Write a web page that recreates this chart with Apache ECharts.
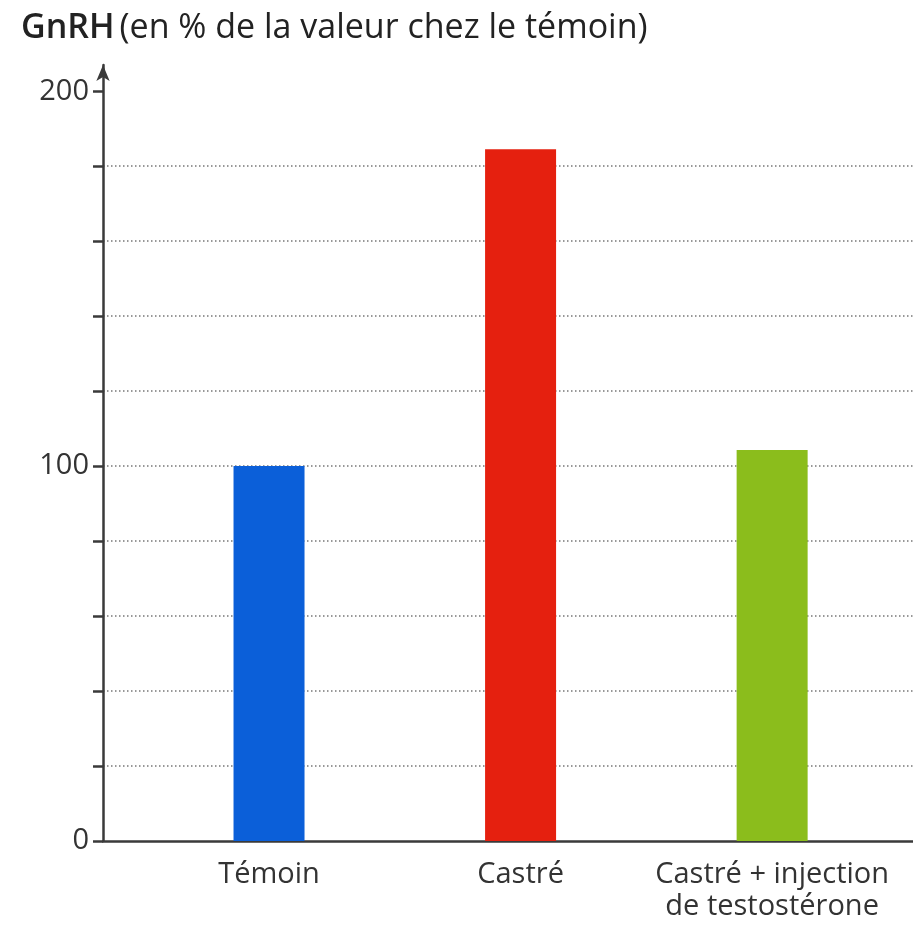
<!DOCTYPE html>
<html><head><meta charset="utf-8">
<script src="https://cdn.jsdelivr.net/npm/echarts@6/dist/echarts.min.js"></script>
<style>html,body{margin:0;padding:0;background:#fff}#c{width:913px;height:938px}</style>
</head><body><div id="c"></div>
<script>
const categories = ['Témoin', 'Castré', 'Castré + injection\nde testostérone'];
const values = [100, 184.5, 104.3];
const barColors = ['#0b5fd9', '#e5200f', '#8bbd1c'];
const yTickValues = [0, 20, 40, 60, 80, 100, 120, 140, 160, 180, 200];
const yLabelValues = [0, 100, 200];
const xPositions = [1, 2, 3];

const chart = echarts.init(document.getElementById('c'));
const font = '"Open Sans", "Noto Sans", sans-serif';
chart.setOption({
  animation: false,
  backgroundColor: '#fff',
  title: {
    left: 16, top: 6,
    text: '{b|GnRH} {n|(en % de la valeur chez le témoin)}',
    textStyle: {
      fontWeight: 'normal',
      rich: {
        b: {fontFamily: font, fontSize: 34, fontWeight: 600, color: '#222'},
        n: {fontFamily: font, fontSize: 34, fontWeight: 'normal', color: '#222'}
      }
    }
  },
  grid: {left: 103, right: 0, top: 65, bottom: 97, containLabel: false},
  xAxis: {
    type: 'value', min: 0.34, max: 3.56,
    splitLine: {show: false},
    axisLine: {show: true, onZero: false, lineStyle: {color: '#3a3a3a', width: 2.5}},
    axisTick: {show: false},
    axisLabel: {
      customValues: xPositions,
      formatter: v => categories[Math.round(v) - 1] || '',
      fontFamily: font, fontSize: 29, color: '#333', margin: 18, lineHeight: 32
    }
  },
  yAxis: {
    type: 'value', min: 0, max: 207, interval: 20,
    axisLine: {show: true, lineStyle: {color: '#3a3a3a', width: 2.5}, symbol: ['none', 'arrow'], symbolSize: [10, 16]},
    axisTick: {show: true, customValues: yTickValues, length: 10, lineStyle: {color: '#3a3a3a', width: 2.5}},
    axisLabel: {customValues: yLabelValues, fontFamily: font, fontSize: 29, color: '#333', margin: 14},
    splitLine: {show: true, showMinLine: false, showMaxLine: false, lineStyle: {type: [1.5, 2.5], color: '#777', width: 1.5}}
  },
  series: [{
    type: 'bar',
    barWidth: 71,
    data: xPositions.map((x, i) => ({value: [x, values[i]], itemStyle: {color: barColors[i]}}))
  }]
});
</script></body></html>
